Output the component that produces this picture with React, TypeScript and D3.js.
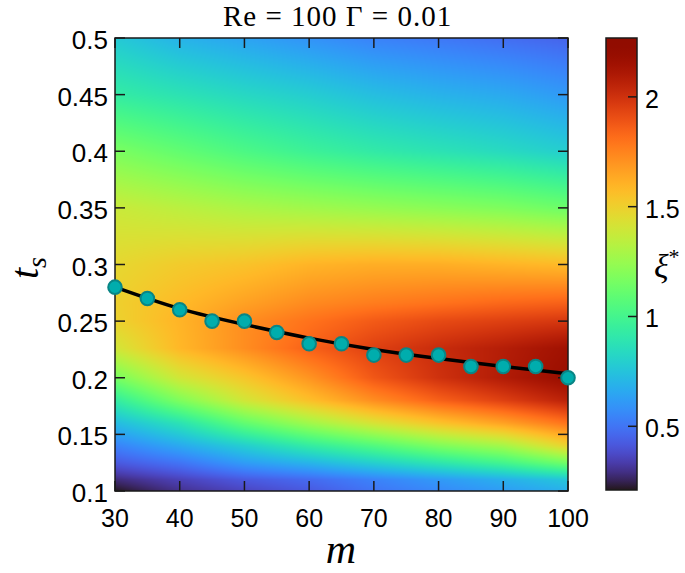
import React, { useMemo } from "react";
import * as d3 from "d3";

// ---- data ----
const mPoints = [30, 35, 40, 45, 50, 55, 60, 65, 70, 75, 80, 85, 90, 95, 100];
const tsPoints = [0.28, 0.27, 0.26, 0.25, 0.25, 0.24, 0.23, 0.23, 0.22, 0.22, 0.22, 0.21, 0.21, 0.21, 0.2];

const fitM = [30, 40, 50, 60, 70, 80, 90, 100];
const fitTs = [0.28, 0.261, 0.247, 0.235, 0.225, 0.217, 0.21, 0.2035];

const gridM = [30, 40, 50, 60, 70, 80, 90, 100];
const gridT = [0.1, 0.11, 0.125, 0.14, 0.16, 0.18, 0.2, 0.226, 0.25, 0.266, 0.3, 0.35, 0.4, 0.45, 0.5];
// xi* values: one row per gridT entry, one column per gridM entry
const xiGrid = [
  [0.21, 0.3, 0.36, 0.42, 0.5, 0.56, 0.62, 0.68],
  [0.28, 0.35, 0.42, 0.47, 0.54, 0.61, 0.68, 0.76],
  [0.42, 0.5, 0.62, 0.7, 0.8, 0.9, 1.0, 1.15],
  [0.54, 0.66, 0.79, 0.93, 1.05, 1.18, 1.28, 1.49],
  [0.72, 0.88, 1.1, 1.27, 1.42, 1.55, 1.66, 1.8],
  [0.93, 1.18, 1.4, 1.56, 1.72, 1.85, 1.95, 2.06],
  [1.16, 1.4, 1.54, 1.7, 1.88, 2.0, 2.09, 2.18],
  [1.4, 1.59, 1.72, 1.85, 1.95, 2.02, 2.08, 2.15],
  [1.49, 1.6, 1.72, 1.8, 1.87, 1.92, 1.95, 1.98],
  [1.5, 1.58, 1.66, 1.73, 1.77, 1.8, 1.83, 1.85],
  [1.47, 1.52, 1.55, 1.6, 1.62, 1.62, 1.6, 1.58],
  [1.38, 1.34, 1.3, 1.27, 1.24, 1.21, 1.18, 1.13],
  [1.17, 1.1, 1.03, 0.97, 0.92, 0.88, 0.84, 0.79],
  [0.93, 0.88, 0.83, 0.785, 0.73, 0.69, 0.66, 0.61],
  [0.77, 0.69, 0.64, 0.59, 0.54, 0.51, 0.48, 0.45],
];

const xTicks = [30, 40, 50, 60, 70, 80, 90, 100];
const yTicks = [0.1, 0.15, 0.2, 0.25, 0.3, 0.35, 0.4, 0.45, 0.5];
const cbTicks = [0.5, 1, 1.5, 2];
const cbDomain = [0.21, 2.268];

const SANS = "'Liberation Sans', Arial, Helvetica, sans-serif";
const SERIF = "'Liberation Serif', 'Times New Roman', serif";

function sampleXi(m: number, t: number): number {
  let k = Math.floor((m - gridM[0]) / 10);
  k = Math.max(0, Math.min(gridM.length - 2, k));
  const fm = Math.max(0, Math.min(1, (m - gridM[k]) / (gridM[k + 1] - gridM[k])));
  let r = d3.bisectRight(gridT, t) - 1;
  r = Math.max(0, Math.min(gridT.length - 2, r));
  const ft = Math.max(0, Math.min(1, (t - gridT[r]) / (gridT[r + 1] - gridT[r])));
  const a = xiGrid[r][k] * (1 - fm) + xiGrid[r][k + 1] * fm;
  const b = xiGrid[r + 1][k] * (1 - fm) + xiGrid[r + 1][k + 1] * fm;
  return a * (1 - ft) + b * ft;
}

export default function App() {
  const x = d3.scaleLinear().domain([30, 100]).range([115, 568]);
  const y = d3.scaleLinear().domain([0.1, 0.5]).range([491, 38]);
  const color = d3.scaleSequential(d3.interpolateTurbo).domain(cbDomain);
  const cbY = d3.scaleLinear().domain(cbDomain).range([490, 38]);

  const [x0, x1] = x.range();
  const [y0, y1] = [y.range()[1], y.range()[0]];
  const pw = x1 - x0;
  const ph = y1 - y0;

  const heatUrl = useMemo(() => {
    const c = document.createElement("canvas");
    c.width = pw;
    c.height = ph;
    const ctx = c.getContext("2d")!;
    const img = ctx.createImageData(pw, ph);
    for (let j = 0; j < ph; j++) {
      const t = y.invert(y0 + j + 0.5);
      for (let i = 0; i < pw; i++) {
        const m = x.invert(x0 + i + 0.5);
        const col = d3.rgb(color(sampleXi(m, t)));
        const p = (j * pw + i) * 4;
        img.data[p] = col.r;
        img.data[p + 1] = col.g;
        img.data[p + 2] = col.b;
        img.data[p + 3] = 255;
      }
    }
    ctx.putImageData(img, 0, 0);
    return c.toDataURL();
  }, []);

  const line = d3
    .line<number>()
    .x((_, i) => x(fitM[i]))
    .y((d) => y(d))
    .curve(d3.curveNatural);

  const stops = d3.range(0, 1.0001, 0.02);
  const tickLen = 10;
  const frame = "#1a1a1a";

  return (
    <svg width={685} height={573} style={{ position: "absolute", left: 0, top: 0, background: "#fff" }}>
      <defs>
        <linearGradient id="cb" x1="0" y1="1" x2="0" y2="0">
          {stops.map((s) => (
            <stop key={s} offset={s} stopColor={d3.interpolateTurbo(s)} />
          ))}
        </linearGradient>
      </defs>
      <image href={heatUrl} x={x0} y={y0} width={pw} height={ph} preserveAspectRatio="none" />

      {/* ticks */}
      {xTicks.map((v) => (
        <g key={"xt" + v} stroke={frame} strokeWidth={1.5}>
          <line x1={x(v)} x2={x(v)} y1={y1} y2={y1 - tickLen} />
          <line x1={x(v)} x2={x(v)} y1={y0} y2={y0 + tickLen} />
        </g>
      ))}
      {yTicks.map((v) => (
        <g key={"yt" + v} stroke={frame} strokeWidth={1.5}>
          <line x1={x0} x2={x0 + tickLen} y1={y(v)} y2={y(v)} />
          <line x1={x1} x2={x1 - tickLen} y1={y(v)} y2={y(v)} />
        </g>
      ))}
      <rect x={x0} y={y0} width={pw} height={ph} fill="none" stroke={frame} strokeWidth={1.5} />

      {/* fitted curve and points */}
      <path d={line(fitTs) || ""} fill="none" stroke="#000" strokeWidth={3.5} />
      {mPoints.map((m, i) => (
        <circle key={"p" + m} cx={x(m)} cy={y(tsPoints[i])} r={6.8} fill="#00adad" stroke="#0a8585" strokeWidth={2} />
      ))}

      {/* tick labels */}
      {xTicks.map((v) => (
        <text key={"xl" + v} x={x(v)} y={527} textAnchor="middle" fontFamily={SANS} fontSize={25} fill="#000">
          {v}
        </text>
      ))}
      {yTicks.map((v) => (
        <text key={"yl" + v} x={108} y={y(v) + 11} textAnchor="end" fontFamily={SANS} fontSize={26} fill="#000">
          {String(+v.toFixed(2))}
        </text>
      ))}

      {/* colorbar */}
      <rect x={606} y={38} width={31} height={452} fill="url(#cb)" stroke={frame} strokeWidth={1.5} />
      {cbTicks.map((v) => (
        <g key={"cb" + v}>
          <line x1={637} x2={628} y1={cbY(v)} y2={cbY(v)} stroke={frame} strokeWidth={1.5} />
          <text x={645} y={cbY(v) + 11} fontFamily={SANS} fontSize={25} fill="#000">
            {String(v)}
          </text>
        </g>
      ))}

      {/* title */}
      <text x={223} y={26} fontFamily={SERIF} fontSize={29} letterSpacing={1} fill="#000" style={{ whiteSpace: "pre" }}>
        {"Re = 100 \u0393 = 0.01"}
      </text>

      {/* axis labels */}
      <text x={341} y={563} textAnchor="middle" fontFamily={SERIF} fontStyle="italic" fontSize={42} fill="#000">
        m
      </text>
      <text transform="translate(38,268) rotate(-90)" textAnchor="middle" fontFamily={SERIF} fontStyle="italic" fontSize={40} fill="#000">
        t<tspan fontSize={28} dy={8}>s</tspan>
      </text>
      <text x={654} y={278} fontFamily={SERIF} fontStyle="italic" fontSize={34} fill="#000">
        ξ<tspan fontSize={22} dy={-14} fontStyle="normal">*</tspan>
      </text>
    </svg>
  );
}
